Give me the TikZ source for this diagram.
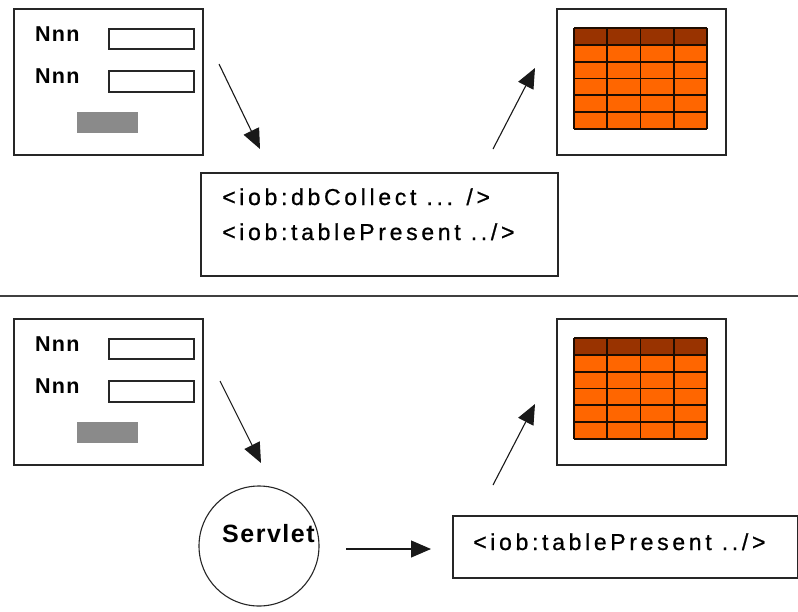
\documentclass[tikz,border=0pt]{standalone}
\usepackage{fontspec}
\setmainfont{Liberation Sans}
\newfontfamily\codefont[LetterSpace=16,FakeBold=0.8]{Liberation Sans}
\newfontfamily\labfont[LetterSpace=6]{Liberation Sans}
\usetikzlibrary{arrows.meta}
\definecolor{hdr}{HTML}{993300}
\definecolor{body}{HTML}{FF6600}
\definecolor{grid}{HTML}{1E0C00}
\definecolor{btn}{HTML}{8A8A8A}
\tikzset{
  panel/.style={draw=black!85, line width=1.8pt, fill=white, anchor=north west, inner sep=0pt},
  field/.style={draw=black!85, line width=1.5pt, fill=white, anchor=north west, inner sep=0pt},
  button/.style={fill=btn, anchor=north west, inner sep=0pt, minimum width=61pt, minimum height=21pt},
  lab/.style={anchor=base west, inner sep=0pt, font=\labfont\bfseries\fontsize{21.5}{21.5}\selectfont},
  code/.style={anchor=base west, inner sep=0pt, font=\codefont\fontsize{23}{23}\selectfont},
  servlet/.style={draw=black!85, line width=1.1pt, circle, minimum size=120pt, inner sep=0pt},
  flow/.style={draw=black!90, line width=1.1pt, -{Triangle[length=20pt,width=17pt]}},
  sep/.style={draw=black!75, line width=2.4pt}
}
\begin{document}
\begin{tikzpicture}[x=1pt,y=-1pt]
\useasboundingbox (0,0) rectangle (798,611);
\fill[white] (0,0) rectangle (798,611);
\foreach \o/\s in {0/t,310/b}{
  % form panel
  \node[panel, minimum width=189pt, minimum height=146pt] (form\s) at (13,8+\o) {};
  \node[lab] (lab1\s) at (35,41+\o) {Nnn};
  \node[lab] (lab2\s) at (35,83+\o) {Nnn};
  \node[field, minimum width=85pt, minimum height=20pt] (fld1\s) at (108,28+\o) {};
  \node[field, minimum width=85pt, minimum height=21pt] (fld2\s) at (108,70+\o) {};
  \node[button] (btn\s) at (77,112+\o) {};
  % table panel
  \node[panel, minimum width=169pt, minimum height=146pt] (tab\s) at (556,8+\o) {};
  \fill[body] (574,28+\o) rectangle (707,129+\o);
  \fill[hdr] (574,28+\o) rectangle (707,44.83+\o);
  \foreach \i in {0,...,6}{
    \draw[grid, line width=1.8pt] (574,28+\o+16.83*\i) -- (707,28+\o+16.83*\i);
  }
  \foreach \j in {0,...,4}{
    \draw[grid, line width=1.8pt] (574+33.25*\j,28+\o) -- (574+33.25*\j,129+\o);
  }
}
% top code box
\node[panel, minimum width=357pt, minimum height=103pt] (codet) at (200,172) {};
\node[code] (c1) at (222,205) {<iob:dbCollect ... />};
\node[code] (c2) at (222,240) {<iob:tablePresent ../>};
% separator
\coordinate (sepl) at (0,296);
\coordinate (sepr) at (798,296);
\draw[sep] (sepl) -- (sepr);
% bottom
\node[servlet] (serv) at (259,546) {};
\node[anchor=base west, inner sep=0pt, font=\labfont\bfseries\fontsize{25}{25}\selectfont] (servtxt) at (222,542) {Servlet};
\node[panel, minimum width=345pt, minimum height=62pt] (codeb) at (452,515) {};
\node[code] (c3) at (473,550) {<iob:tablePresent ../>};
% arrows
\coordinate (a1s) at (219,64);  \coordinate (a1e) at (260,149);
\coordinate (a2s) at (493,149); \coordinate (a2e) at (535,68);
\coordinate (a3s) at (220,381); \coordinate (a3e) at (261,463);
\coordinate (a4s) at (493,485); \coordinate (a4e) at (535,404);
\coordinate (a5s) at (346,549); \coordinate (a5e) at (431,549);
\draw[flow] (a1s) -- (a1e);
\draw[flow] (a2s) -- (a2e);
\draw[flow] (a3s) -- (a3e);
\draw[flow] (a4s) -- (a4e);
\draw[flow] (a5s) -- (a5e);
\end{tikzpicture}
\end{document}
